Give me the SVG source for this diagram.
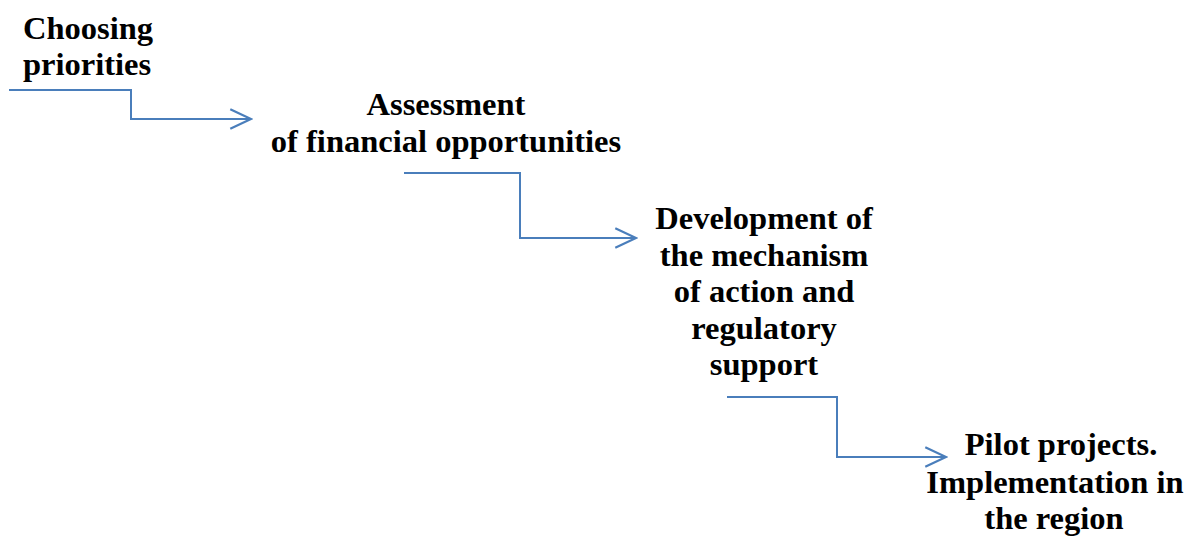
<svg xmlns="http://www.w3.org/2000/svg" width="1186" height="536" viewBox="0 0 1186 536">
  <style>
    .label { font-family: "Liberation Serif", "Times New Roman", serif; font-weight: bold; font-size: 32.5px; fill: #000; }
    .mid { text-anchor: middle; }
    .link { fill: none; stroke: #4a7ebb; stroke-width: 2; }
  </style>
  <defs>
    <marker id="chevron" markerUnits="userSpaceOnUse" markerWidth="24" markerHeight="24" viewBox="-20 -11 22 22" refX="0" refY="0" orient="auto">
      <path d="M-19,-9 L0,0 L-19,9" fill="none" stroke="#4a7ebb" stroke-width="2"/>
    </marker>
  </defs>
  <rect width="1186" height="536" fill="#fff"/>

  <g id="connectors">
    <path class="link" d="M9,90 H131 V119 H251" marker-end="url(#chevron)"/>
    <path class="link" d="M404,173 H520 V238 H636" marker-end="url(#chevron)"/>
    <path class="link" d="M727,397 H837 V457 H946" marker-end="url(#chevron)"/>
  </g>

  <g id="node-priorities">
    <text class="label" x="23" y="39">Choosing</text>
    <text class="label" x="23" y="75">priorities</text>
  </g>

  <g id="node-finance">
    <text class="label mid" x="446" y="115">Assessment</text>
    <text class="label mid" x="446" y="152">of financial opportunities</text>
  </g>

  <g id="node-mechanism">
    <text class="label mid" x="764" y="229">Development of</text>
    <text class="label mid" x="764" y="266">the mechanism</text>
    <text class="label mid" x="764" y="302">of action and</text>
    <text class="label mid" x="764" y="339">regulatory</text>
    <text class="label mid" x="764" y="375">support</text>
  </g>

  <g id="node-pilot">
    <text class="label mid" x="1061" y="455">Pilot projects.</text>
    <text class="label mid" x="1055" y="493">Implementation in</text>
    <text class="label mid" x="1054" y="529">the region</text>
  </g>
</svg>
